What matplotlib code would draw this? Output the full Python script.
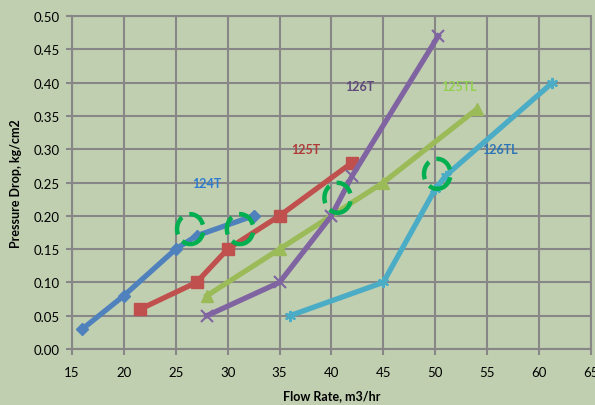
import matplotlib
matplotlib.use("Agg")
import matplotlib.pyplot as plt
from matplotlib.patches import Ellipse

plt.rcParams['font.family'] = ['Lato', 'DejaVu Sans']

# series
x_124t = [16, 20, 25, 27, 32.5]
y_124t = [0.03, 0.08, 0.15, 0.17, 0.20]
x_125t = [21.6, 27, 30, 35, 42]
y_125t = [0.06, 0.10, 0.15, 0.20, 0.28]
x_125tl = [28, 35, 45, 54]
y_125tl = [0.08, 0.15, 0.25, 0.36]
x_126t = [28, 35, 40, 42, 50.3]
y_126t = [0.05, 0.10, 0.20, 0.26, 0.47]
x_126tl = [36, 45, 50, 51, 61.3]
y_126tl = [0.05, 0.10, 0.24, 0.26, 0.40]

# highlighted spots (dashed green rings)
ring_x = [26.4, 31.2, 40.6, 50.2]
ring_y = [0.18, 0.18, 0.227, 0.263]

labels = ["124T", "125T", "126T", "125TL", "126TL"]
label_x = [28.0, 37.5, 42.7, 52.3, 56.2]
label_y = [0.25, 0.30, 0.395, 0.395, 0.30]

bg = "#c1cfb1"
grid_c = "#878787"

fig = plt.figure(figsize=(5.95, 4.06), dpi=100, facecolor=bg)
ax = fig.add_axes([0.121, 0.138, 0.872, 0.820], facecolor=bg)

lw = 3.8
ax.plot(x_124t, y_124t, color="#4f81bd", lw=lw, marker="D", ms=6, zorder=3)
ax.plot(x_125t, y_125t, color="#c0504d", lw=lw, marker="s", ms=8, zorder=3)
ax.plot(x_125tl, y_125tl, color="#9bbb59", lw=lw, marker="^", ms=8, zorder=3)
ax.plot(x_126t, y_126t, color="#8064a2", lw=lw, marker="x", ms=8, mew=1.5, zorder=3)
ax.plot(x_126tl, y_126tl, color="#4bacc6", lw=lw, marker=(6, 2, 0), ms=8, mew=1.5, zorder=3)

for cx, cy in zip(ring_x, ring_y):
    e = Ellipse((cx, cy), width=2.55, height=0.045, fill=False,
                edgecolor="#00b050", lw=3.2, linestyle=(0, (4.2, 1.8)), zorder=4)
    ax.add_patch(e)

label_colors = ["#2e7bcf", "#b03c3a", "#5f4a7b", "#92d050", "#2e75b6"]
for t, lx, ly, c in zip(labels, label_x, label_y, label_colors):
    ax.text(lx, ly, t, color=c, fontsize=9, fontweight="bold", ha="center", va="center")

ax.set_xlim(15, 65)
ax.set_ylim(0, 0.5)
ax.set_xticks(range(15, 70, 5))
ax.set_yticks([i * 0.05 for i in range(11)])
ax.set_yticklabels([f"{i * 0.05:.2f}" for i in range(11)])
ax.grid(True, color=grid_c, lw=1.5)
ax.set_axisbelow(True)
for s in ax.spines.values():
    s.set_color(grid_c)
    s.set_linewidth(1.5)
ax.tick_params(direction="out", length=4, width=1.5, color=grid_c, labelsize=9.5)
ax.tick_params(axis="x", pad=8)
ax.tick_params(axis="y", pad=5)

ax.set_xlabel("Flow Rate, m3/hr", fontsize=9, fontweight="bold", labelpad=8)
ax.set_ylabel("Pressure Drop, kg/cm2", fontsize=9, fontweight="bold", labelpad=8)

fig.savefig("out.png", dpi=100, facecolor=bg)
